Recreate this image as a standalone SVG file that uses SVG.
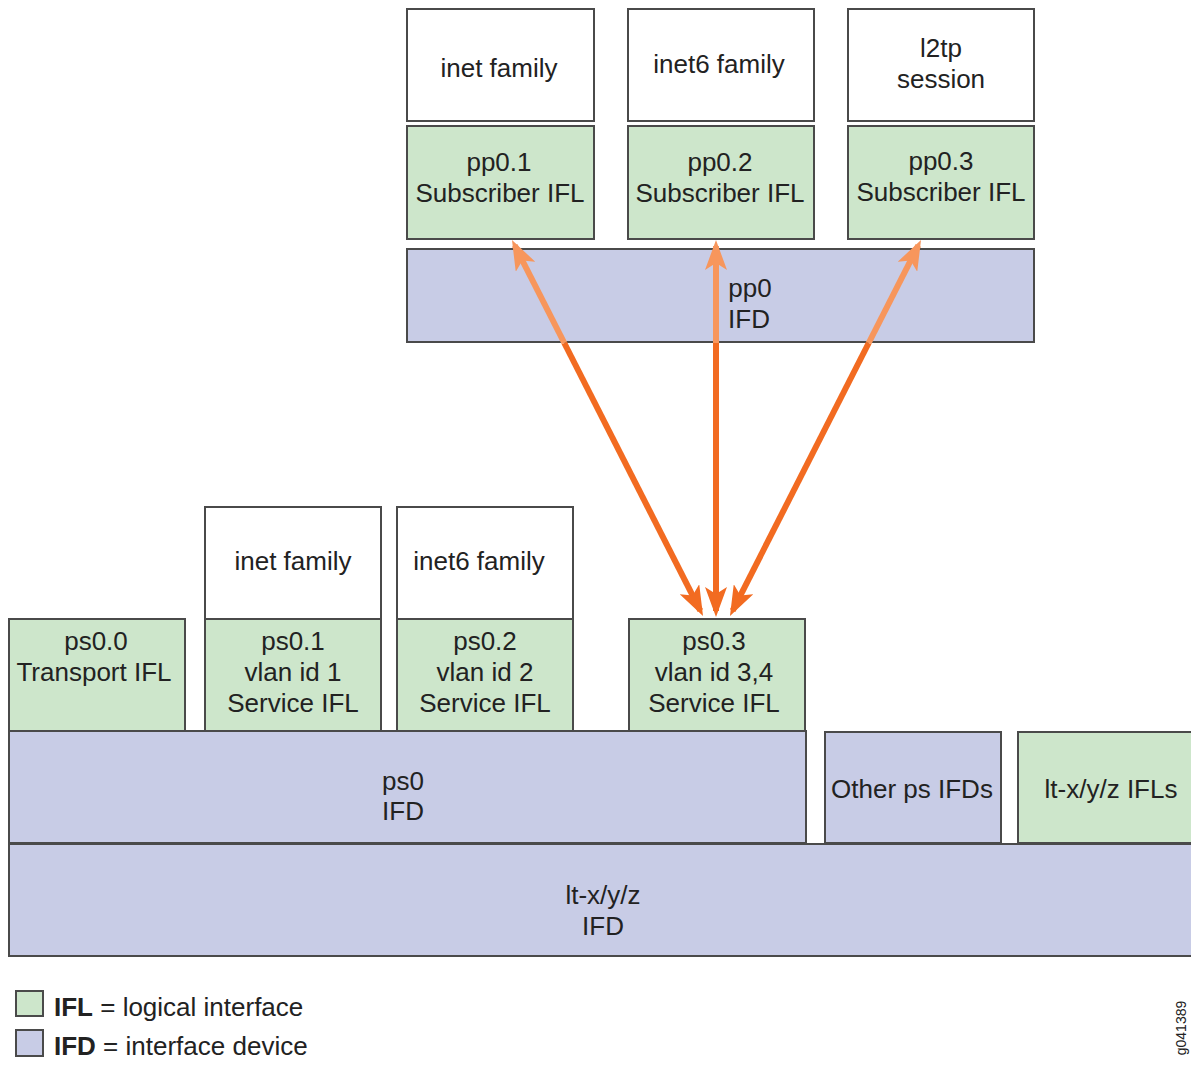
<svg xmlns="http://www.w3.org/2000/svg" width="1191" height="1066" viewBox="0 0 1191 1066">
  <style>
    .box { stroke: #4a4a4a; stroke-width: 2; }
    .fam { fill: #ffffff; }
    .ifl { fill: #cde6cb; }
    .ifd { fill: #c8cce6; }
    text { font-family: "Liberation Sans", Arial, sans-serif; font-size: 26px; fill: #222; text-anchor: middle; }
    .lg { text-anchor: start; }
    .b { font-weight: bold; }
    .dark { stroke: #f26b21; stroke-width: 6; fill: none; }
    .light { stroke: #f7965c; stroke-width: 6; fill: none; }
  </style>
  <defs>
    <marker id="headDark" viewBox="0 0 30 22" refX="24" refY="11" markerWidth="30" markerHeight="22" markerUnits="userSpaceOnUse" orient="auto-start-reverse">
      <path d="M0,0 L30,11 L0,22 L7,11 z" fill="#f26b21"/>
    </marker>
    <marker id="headLight" viewBox="0 0 30 22" refX="24" refY="11" markerWidth="30" markerHeight="22" markerUnits="userSpaceOnUse" orient="auto-start-reverse">
      <path d="M0,0 L30,11 L0,22 L7,11 z" fill="#f7965c"/>
    </marker>
  </defs>

  <rect width="1191" height="1066" fill="#ffffff"/>

  <!-- pp0 stack -->
  <g id="pp01-family"><rect class="box fam" x="407" y="9" width="187" height="112"/><text x="499" y="77">inet family</text></g>
  <g id="pp02-family"><rect class="box fam" x="628" y="9" width="186" height="112"/><text x="719" y="73">inet6 family</text></g>
  <g id="pp03-session"><rect class="box fam" x="848" y="9" width="186" height="112"/><text x="941" y="57">l2tp</text><text x="941" y="88">session</text></g>
  <g id="pp01"><rect class="box ifl" x="407" y="126" width="187" height="113"/><text x="499" y="171">pp0.1</text><text x="500" y="202">Subscriber IFL</text></g>
  <g id="pp02"><rect class="box ifl" x="628" y="126" width="186" height="113"/><text x="720" y="171">pp0.2</text><text x="720" y="202">Subscriber IFL</text></g>
  <g id="pp03"><rect class="box ifl" x="848" y="126" width="186" height="113"/><text x="941" y="170">pp0.3</text><text x="941" y="201">Subscriber IFL</text></g>
  <g id="pp0"><rect class="box ifd" x="407" y="249" width="627" height="93"/><text x="750" y="297">pp0</text><text x="749" y="328">IFD</text></g>

  <!-- ps0 stack -->
  <g id="ps01-family"><rect class="box fam" x="205" y="507" width="176" height="112"/><text x="293" y="570">inet family</text></g>
  <g id="ps02-family"><rect class="box fam" x="397" y="507" width="176" height="112"/><text x="479" y="570">inet6 family</text></g>
  <g id="ps00"><rect class="box ifl" x="9" y="619" width="176" height="112"/><text x="96" y="650">ps0.0</text><text x="94" y="681">Transport IFL</text></g>
  <g id="ps01"><rect class="box ifl" x="205" y="619" width="176" height="112"/><text x="293" y="650">ps0.1</text><text x="293" y="681">vlan id 1</text><text x="293" y="712">Service IFL</text></g>
  <g id="ps02"><rect class="box ifl" x="397" y="619" width="176" height="112"/><text x="485" y="650">ps0.2</text><text x="485" y="681">vlan id 2</text><text x="485" y="712">Service IFL</text></g>
  <g id="ps03"><rect class="box ifl" x="629" y="619" width="176" height="112"/><text x="714" y="650">ps0.3</text><text x="714" y="681">vlan id 3,4</text><text x="714" y="712">Service IFL</text></g>
  <g id="ps0"><rect class="box ifd" x="9" y="731" width="797" height="112"/><text x="403" y="790">ps0</text><text x="403" y="820">IFD</text></g>
  <g id="other-ps"><rect class="box ifd" x="825" y="732" width="176" height="111"/><text x="912" y="798">Other ps IFDs</text></g>
  <g id="lt-ifls"><rect class="box ifl" x="1018" y="732" width="180" height="111"/><text x="1111" y="798">lt-x/y/z IFLs</text></g>
  <g id="lt-ifd"><rect class="box ifd" x="9" y="844" width="1189" height="112"/><text x="603" y="904">lt-x/y/z</text><text x="603" y="935">IFD</text></g>

  <!-- connectors: ps0.3 to each pp0 subscriber IFL -->
  <g id="connectors">
    <line class="dark" x1="700.3" y1="610.6" x2="564.3" y2="343" marker-start="url(#headDark)"/>
    <line class="light" x1="564.3" y1="343" x2="514.7" y2="245.4" marker-end="url(#headLight)"/>
    <line class="dark" x1="716" y1="611" x2="716" y2="343" marker-start="url(#headDark)"/>
    <line class="light" x1="716" y1="343" x2="716" y2="246" marker-end="url(#headLight)"/>
    <line class="dark" x1="732.7" y1="610.6" x2="868.7" y2="343" marker-start="url(#headDark)"/>
    <line class="light" x1="868.7" y1="343" x2="918.3" y2="245.4" marker-end="url(#headLight)"/>
  </g>

  <!-- legend -->
  <g id="legend">
    <rect class="box ifl" x="16" y="991" width="27" height="25"/>
    <rect class="box ifd" x="16" y="1030" width="27" height="26"/>
    <text class="lg" x="54" y="1016"><tspan class="b">IFL</tspan> = logical interface</text>
    <text class="lg" x="54" y="1055"><tspan class="b">IFD</tspan> = interface device</text>
  </g>
  <text x="1186" y="1028" transform="rotate(-90 1186 1028)" style="font-size:14px">g041389</text>
</svg>
